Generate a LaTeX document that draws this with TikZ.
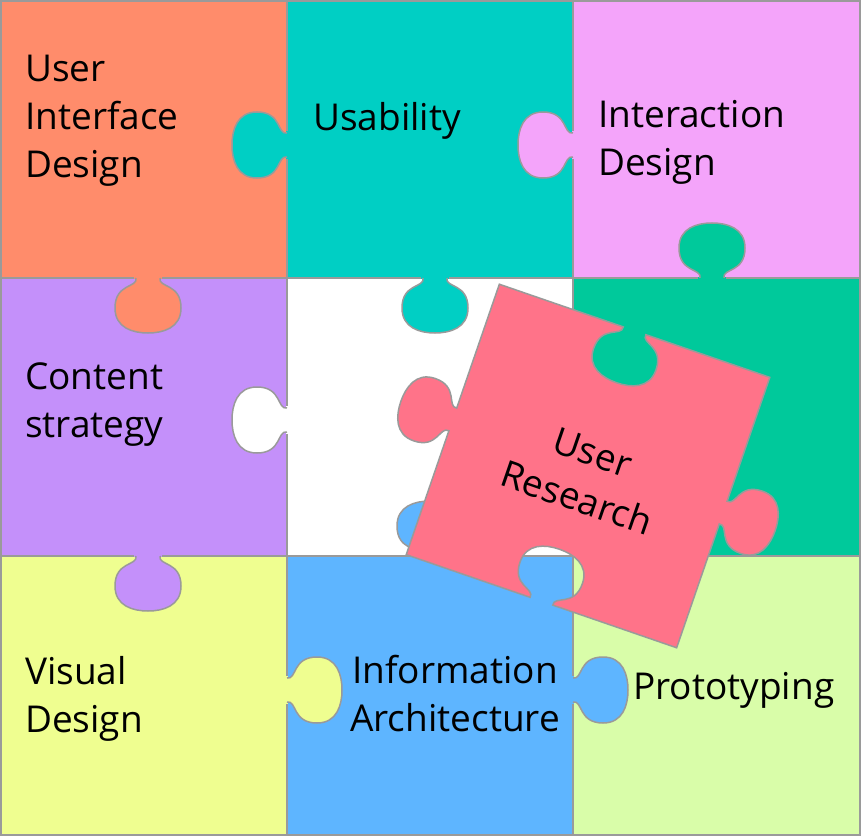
\documentclass[tikz,border=0pt]{standalone}
\usepackage{fontspec}
\setmainfont{Open Sans}
\definecolor{cOr}{HTML}{FF8C6B}
\definecolor{cTe}{HTML}{00CFC4}
\definecolor{cPk}{HTML}{F4A4FA}
\definecolor{cPu}{HTML}{C490FA}
\definecolor{cGr}{HTML}{00C99B}
\definecolor{cYe}{HTML}{EFFE90}
\definecolor{cBl}{HTML}{5EB5FF}
\definecolor{cLg}{HTML}{D9FDA9}
\definecolor{cUr}{HTML}{FF7389}
\definecolor{cEd}{HTML}{9A9A9A}
\newcommand\knob[4]{%
\begin{scope}[shift={(#1,#2)},rotate=#3]
\fill[#4] (-14,-3) rectangle (14,0.6);
\filldraw[fill=#4,draw=cEd,line width=1.5pt] (-12,0) .. controls (-10,10) and (-33,5) .. (-33,30) .. controls (-33,50) and (-15,55) .. (0,55) .. controls (15,55) and (33,50) .. (33,30) .. controls (33,5) and (10,10) .. (12,0);
\end{scope}}
\begin{document}
\begin{tikzpicture}[x=1pt,y=-1pt,
  piece/.style={draw=cEd,line width=1.5pt},
  lab/.style={font=\fontsize{37}{48}\selectfont,align=left,inner sep=0pt}]
\useasboundingbox (0,0) rectangle (862,837);
\fill[white] (0,0) rectangle (862,837);
\path[piece,fill=cOr] (1,1) rectangle (287,278);
\path[piece,fill=cTe] (287,1) rectangle (573,278);
\path[piece,fill=cPk] (573,1) rectangle (860,278);
\path[piece,fill=cPu] (1,278) rectangle (287,556);
\path[piece,fill=white] (287,278) rectangle (573,556);
\path[piece,fill=cGr] (573,278) rectangle (860,556);
\path[piece,fill=cYe] (1,556) rectangle (287,835);
\path[piece,fill=cBl] (287,556) rectangle (573,835);
\path[piece,fill=cLg] (573,556) rectangle (860,835);
\knob{148}{278}{0}{cOr}
\knob{287}{145}{-90}{cTe}
\knob{435}{278}{0}{cTe}
\knob{573}{145}{-90}{cPk}
\knob{712}{278}{180}{cGr}
\knob{287}{420}{-90}{white}
\knob{148}{556}{0}{cPu}
\knob{430}{556}{180}{cBl}
\knob{287}{690}{90}{cYe}
\knob{573}{690}{90}{cBl}
\begin{scope}[shift={(588,466)},rotate=-19]
\path[piece,fill=cUr] (-143,-143) -- (-12,-143) .. controls (-10,-133) and (-33,-138) .. (-33,-113) .. controls (-33,-93) and (-15,-88) .. (0,-88) .. controls (15,-88) and (33,-93) .. (33,-113) .. controls (33,-138) and (10,-133) .. (12,-143) -- (143,-143)
-- (143,-12) .. controls (153,-10) and (148,-33) .. (173,-33) .. controls (193,-33) and (198,-15) .. (198,0) .. controls (198,15) and (193,33) .. (173,33) .. controls (148,33) and (153,10) .. (143,12) -- (143,143)
-- (12,143) .. controls (10,133) and (33,138) .. (33,113) .. controls (33,93) and (15,88) .. (0,88) .. controls (-15,88) and (-33,93) .. (-33,113) .. controls (-33,138) and (-10,133) .. (-12,143) -- (-143,143)
-- (-143,12) .. controls (-153,10) and (-148,33) .. (-173,33) .. controls (-193,33) and (-198,15) .. (-198,0) .. controls (-198,-15) and (-193,-33) .. (-173,-33) .. controls (-148,-33) and (-153,-10) .. (-143,-12) -- cycle;
\node[lab,align=center,transform shape] (ur) at (0,10) {User\\Research};
\end{scope}
\node[lab,anchor=west] (ui) at (25,121) {User\\Interface\\Design};
\node[lab,anchor=west] (us) at (313,121) {Usability};
\node[lab,anchor=west] (ix) at (598,142) {Interaction\\Design};
\node[lab,anchor=west] (cs) at (25,405) {Content\\strategy};
\node[lab,anchor=west] (vd) at (25,699) {Visual\\Design};
\node[lab,align=center] (ia) at (455,694) {Information\\Architecture};
\node[lab,anchor=west] (pt) at (633,690) {Prototyping};
\end{tikzpicture}
\end{document}
